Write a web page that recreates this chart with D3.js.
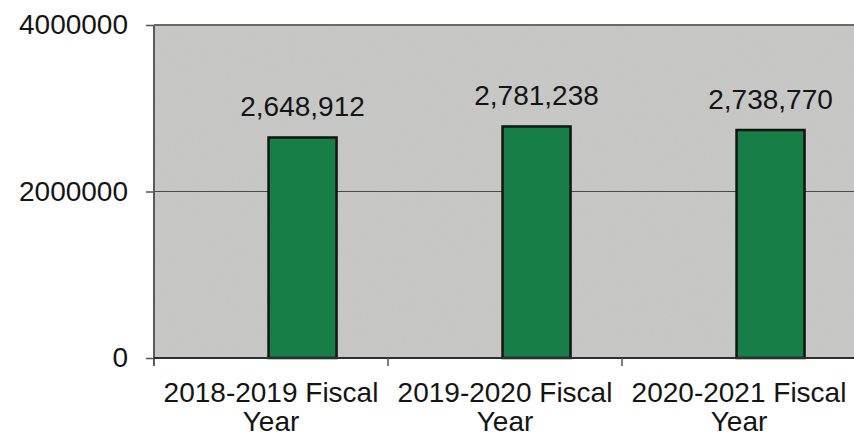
<!DOCTYPE html>
<html>
<head>
<meta charset="utf-8">
<script src="https://cdn.jsdelivr.net/npm/d3@7"></script>
<style>
  html, body { margin: 0; padding: 0; background: #fff; }
  svg { display: block; font-family: "Liberation Sans", Arial, sans-serif; }
</style>
</head>
<body>
<svg id="chart" width="854" height="438"></svg>
<script>
// Fiscal-year totals
const categories = ["2018-2019 Fiscal Year", "2019-2020 Fiscal Year", "2020-2021 Fiscal Year"];
const totals = [2648912, 2781238, 2738770];
const yTicks = [0, 2000000, 4000000];

const svg = d3.select("#chart");
const margin = { left: 154, top: 25, right: -2, bottom: 80 };
const W = 854, H = 438;
const plotBottom = H - margin.bottom;
const fontSize = 28;

const x = d3.scaleBand()
  .domain(categories)
  .range([margin.left, W - margin.right])
  .paddingInner(0).paddingOuter(0);

// bar slot inside each category band (bar sits right of centre)
const slot = d3.scaleBand()
  .domain(["total"])
  .range([0, x.bandwidth()])
  .paddingOuter(1.22)
  .align(0.69);

const y = d3.scaleLinear().domain([0, 4000000]).range([plotBottom, margin.top]);

// grain for the plot area
const defs = svg.append("defs");
const grain = defs.append("filter").attr("id", "grain").attr("x", 0).attr("y", 0).attr("width", 1).attr("height", 1);
grain.append("feTurbulence").attr("type", "fractalNoise").attr("baseFrequency", 0.9).attr("numOctaves", 2).attr("seed", 4).attr("result", "n");
grain.append("feColorMatrix").attr("in", "n").attr("type", "matrix")
  .attr("values", "0 0 0 0 0.5  0 0 0 0 0.5  0 0 0 0 0.5  0 0 0 0.22 0").attr("result", "g");
grain.append("feComposite").attr("in", "g").attr("in2", "SourceGraphic").attr("operator", "in").attr("result", "g2");
grain.append("feMerge").selectAll("feMergeNode").data(["SourceGraphic", "g2"]).join("feMergeNode").attr("in", d => d);

const rule = defs.append("linearGradient").attr("id", "rule").attr("x1", 0).attr("x2", 1).attr("y1", 0).attr("y2", 0);
rule.append("stop").attr("offset", 0).attr("stop-color", "#e2b4cb");
rule.append("stop").attr("offset", 0.18).attr("stop-color", "#d6b8c6");
rule.append("stop").attr("offset", 0.22).attr("stop-color", "#b9b9b9");
rule.append("stop").attr("offset", 1).attr("stop-color", "#bdbdbd");

// plot background
svg.append("rect")
  .attr("x", margin.left).attr("y", margin.top)
  .attr("width", W - margin.right - margin.left).attr("height", plotBottom - margin.top)
  .attr("fill", "#c8c8c6")
  .attr("filter", "url(#grain)");

// faint rule under the first label line
svg.append("line")
  .attr("x1", 0).attr("x2", W).attr("y1", 401).attr("y2", 401)
  .attr("stroke", "url(#rule)").attr("stroke-width", 1);

// horizontal gridlines
svg.append("g").selectAll("line")
  .data(yTicks.filter(d => d > 0))
  .join("line")
  .attr("x1", margin.left).attr("x2", W - margin.right)
  .attr("y1", d => y(d)).attr("y2", d => y(d))
  .attr("stroke", d => d === 4000000 ? "#6a6a6a" : "#4a4a4a")
  .attr("stroke-width", d => d === 4000000 ? 2.2 : 1.2);

// bars
svg.append("g").selectAll("rect")
  .data(totals)
  .join("rect")
  .attr("x", (d, i) => x(categories[i]) + slot("total"))
  .attr("y", d => y(d))
  .attr("width", slot.bandwidth())
  .attr("height", d => plotBottom - y(d))
  .attr("fill", "#177e48")
  .attr("stroke", "#141414")
  .attr("stroke-width", 2.5);

// value labels
svg.append("g").selectAll("text")
  .data(totals)
  .join("text")
  .attr("x", (d, i) => x(categories[i]) + slot("total") + slot.bandwidth() / 2)
  .attr("y", d => y(d) - 21)
  .attr("text-anchor", "middle")
  .attr("font-size", fontSize)
  .attr("fill", "#151515")
  .text(d3.format(","));

// y axis
const yAxis = svg.append("g")
  .attr("transform", `translate(${margin.left},0)`)
  .call(d3.axisLeft(y).tickValues(yTicks).tickFormat(d3.format("d")).tickSize(8).tickPadding(18));
yAxis.select(".domain").attr("stroke", "#5a5a5a").attr("stroke-width", 2)
  .attr("d", `M0,${margin.top}V${plotBottom + 8}`);
yAxis.selectAll(".tick line").attr("stroke", "#555").attr("stroke-width", 1.5);
yAxis.selectAll(".tick text").attr("font-size", fontSize).attr("fill", "#151515")
  .attr("font-family", "Liberation Sans, Arial, sans-serif");

// x axis: baseline, boundary ticks and two-line labels
const xg = svg.append("g");
xg.append("line")
  .attr("x1", margin.left).attr("x2", W - margin.right)
  .attr("y1", plotBottom).attr("y2", plotBottom)
  .attr("stroke", "#2e2e2e").attr("stroke-width", 2);
xg.selectAll("line.tk")
  .data(categories.slice(1))
  .join("line").attr("class", "tk")
  .attr("x1", d => x(d)).attr("x2", d => x(d))
  .attr("y1", plotBottom).attr("y2", plotBottom + 8)
  .attr("stroke", "#555").attr("stroke-width", 1.5);
const lbl = xg.selectAll("text")
  .data(categories)
  .join("text")
  .attr("text-anchor", "middle")
  .attr("font-size", fontSize)
  .attr("fill", "#151515")
  .attr("transform", d => `translate(${x(d) + x.bandwidth() / 2},0)`);
lbl.append("tspan").attr("x", 0).attr("y", 402).text(d => d.replace(/ Year$/, ""));
lbl.append("tspan").attr("x", 0).attr("y", 431).text("Year");
</script>
</body>
</html>
